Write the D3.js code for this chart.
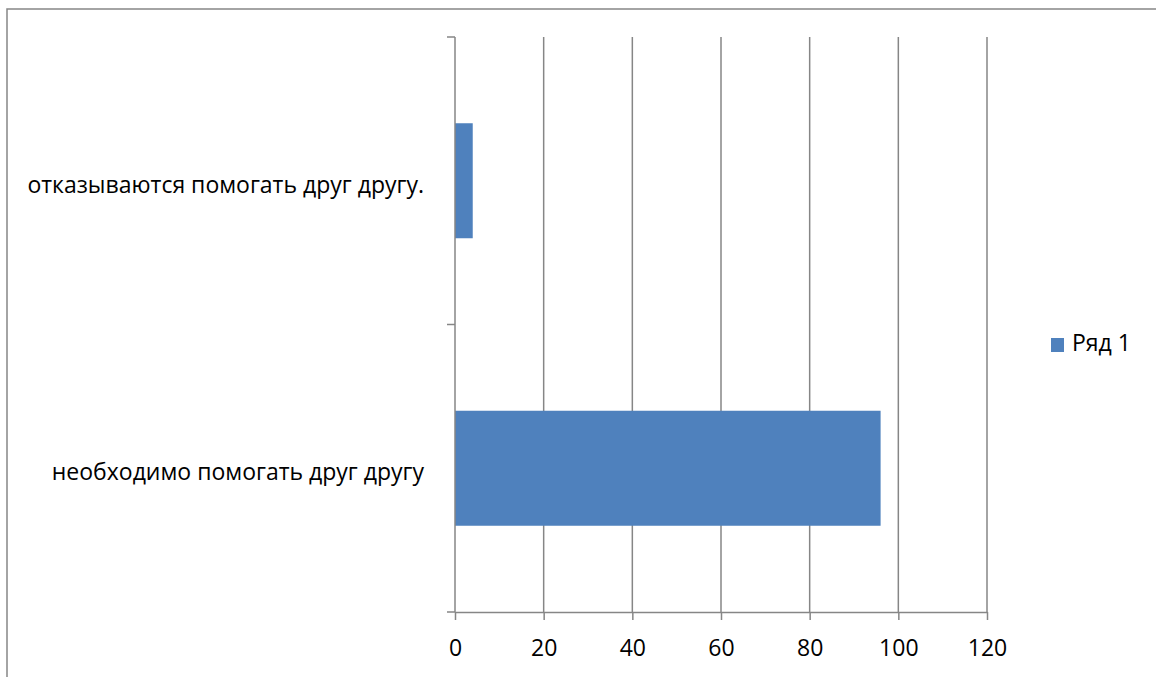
<!DOCTYPE html>
<html>
<head>
<meta charset="utf-8">
<script src="https://cdn.jsdelivr.net/npm/d3@7"></script>
<style>
  body { margin: 0; background: #fff; }
  svg { display: block; }
  .lbl { font-family: "Open Sans", "Noto Sans", sans-serif; font-size: 23px; fill: #000; }
</style>
</head>
<body>
<div id="chart"></div>
<script>
// Data (Excel draws first category at the bottom)
const categories = ['необходимо помогать друг другу', 'отказываются помогать друг другу.'];
const values = [96, 4];
const xTicks = [0, 20, 40, 60, 80, 100, 120];
const seriesName = 'Ряд 1';

const width = 1156, height = 677;
const plot = { left: 455, right: 987, top: 37, bottom: 612 };
const gridColor = '#868686';
const barColor = '#4F81BD';

const svg = d3.select('#chart').append('svg')
    .attr('width', width)
    .attr('height', height);

// chart frame
svg.append('rect')
    .attr('x', 7).attr('y', 9)
    .attr('width', width + 10).attr('height', height + 10)
    .attr('fill', 'none')
    .attr('stroke', '#868686')
    .attr('stroke-width', 1.5);

const x = d3.scaleLinear().domain([0, 120]).range([plot.left, plot.right]);
const y = d3.scaleBand()
    .domain(categories.slice().reverse())
    .range([plot.top, plot.bottom])
    .paddingInner(0.6)
    .paddingOuter(0.3);

// vertical gridlines
svg.append('g').selectAll('line')
    .data(xTicks.filter(d => d > 0))
    .enter().append('line')
    .attr('x1', d => x(d)).attr('x2', d => x(d))
    .attr('y1', plot.top).attr('y2', plot.bottom)
    .attr('stroke', gridColor).attr('stroke-width', 1.5);

// bars
svg.append('g').selectAll('rect')
    .data(categories)
    .enter().append('rect')
    .attr('x', x(0))
    .attr('y', d => y(d))
    .attr('width', (d, i) => x(values[i]) - x(0))
    .attr('height', y.bandwidth())
    .attr('fill', barColor);

// x axis
const xAxis = svg.append('g')
    .attr('transform', `translate(0,${plot.bottom})`)
    .call(d3.axisBottom(x).tickValues(xTicks).tickSize(8).tickPadding(20).tickSizeOuter(0));
xAxis.select('.domain').attr('stroke', gridColor).attr('stroke-width', 1.5);
xAxis.selectAll('.tick line').attr('stroke', gridColor).attr('stroke-width', 1.5);
xAxis.selectAll('.tick text').attr('class', 'lbl').attr('font-family', null).attr('font-size', null);
xAxis.attr('font-family', null).attr('font-size', null);

// y axis: ticks at category boundaries
const yBounds = [plot.top, (plot.top + plot.bottom) / 2, plot.bottom];
svg.append('line')
    .attr('x1', plot.left).attr('x2', plot.left)
    .attr('y1', plot.top).attr('y2', plot.bottom)
    .attr('stroke', gridColor).attr('stroke-width', 1.5);
svg.append('g').selectAll('line')
    .data(yBounds)
    .enter().append('line')
    .attr('x1', plot.left - 8).attr('x2', plot.left)
    .attr('y1', d => d).attr('y2', d => d)
    .attr('stroke', gridColor).attr('stroke-width', 1.5);

svg.append('g').selectAll('text')
    .data(categories)
    .enter().append('text')
    .attr('class', 'lbl')
    .attr('x', 424)
    .attr('y', d => y(d) + y.bandwidth() / 2 + 12)
    .attr('text-anchor', 'end')
    .text(d => d);

// legend
const legend = svg.append('g').attr('transform', 'translate(1051,338)');
legend.append('rect')
    .attr('width', 13).attr('height', 14)
    .attr('fill', barColor);
legend.append('text')
    .attr('class', 'lbl')
    .attr('x', 21).attr('y', 13)
    .text(seriesName);
</script>
</body>
</html>
